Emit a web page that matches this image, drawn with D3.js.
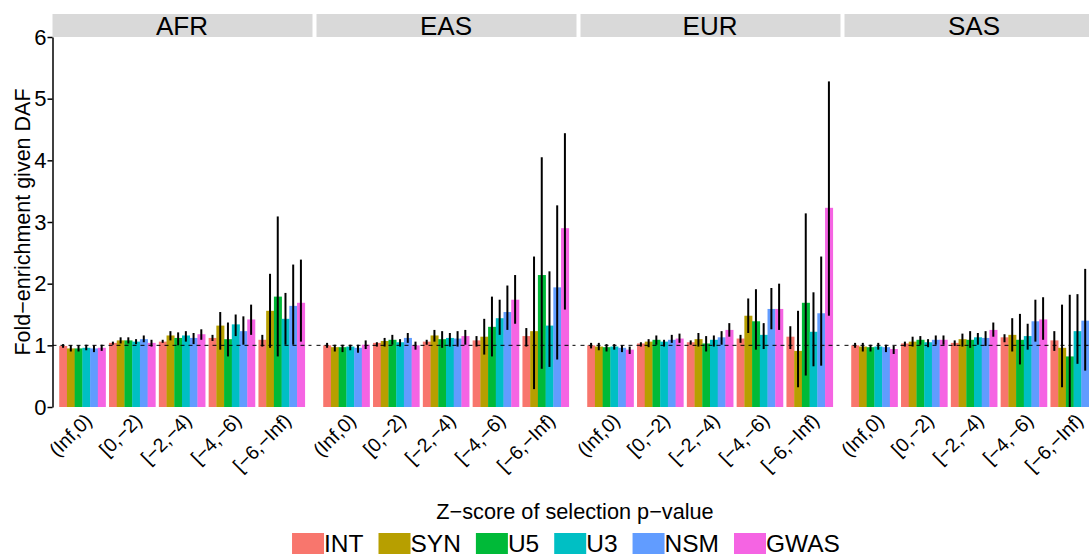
<!DOCTYPE html>
<html>
<head>
<meta charset="utf-8">
<script src="https://cdn.jsdelivr.net/npm/d3@7"></script>
<style>
	html, body { margin: 0; padding: 0; overflow: hidden; background: #fff; }
	svg { display: block; font-family: 'Liberation Sans', Arial, sans-serif; }
</style>
</head>
<body>
<svg id="chart" width="1089" height="554"></svg>
<script>
'use strict';

// Fold-enrichment given DAF, faceted by population.
// Rows = selection p-value bins, columns = annotation classes.

const populations = ['AFR', 'EAS', 'EUR', 'SAS'];
const bins = ['(Inf,0)', '[0,\u22122)', '[\u22122,\u22124)', '[\u22124,\u22126)', '[\u22126,\u2212Inf)'];
const classes = ['INT', 'SYN', 'U5', 'U3', 'NSM', 'GWAS'];
const classColors = ['#F8766D', '#B79F00', '#00BA38', '#00BFC4', '#619CFF', '#F564E3'];
const yTicks = [0, 1, 2, 3, 4, 5, 6];

const afrFold = [
	[0.99, 0.95, 0.95, 0.96, 0.95, 0.96],
	[1.04, 1.08, 1.08, 1.06, 1.10, 1.04],
	[1.06, 1.16, 1.12, 1.16, 1.12, 1.18],
	[1.12, 1.32, 1.10, 1.34, 1.23, 1.42],
	[1.09, 1.56, 1.79, 1.43, 1.64, 1.69]
];
const afrLow = [
	[0.96, 0.90, 0.90, 0.92, 0.89, 0.91],
	[1.01, 1.03, 1.03, 1.02, 1.05, 0.98],
	[1.04, 1.08, 1.00, 1.06, 1.02, 1.09],
	[1.07, 0.93, 0.82, 1.15, 1.01, 1.17],
	[0.98, 0.96, 0.82, 1.01, 1.01, 1.06]
];
const afrHigh = [
	[1.02, 1.00, 1.00, 1.01, 1.00, 1.01],
	[1.06, 1.13, 1.13, 1.10, 1.16, 1.09],
	[1.09, 1.23, 1.21, 1.23, 1.20, 1.26],
	[1.17, 1.54, 1.37, 1.50, 1.47, 1.66],
	[1.17, 2.16, 3.09, 1.85, 2.31, 2.39]
];

const easFold = [
	[1.00, 0.97, 0.97, 0.98, 0.96, 1.01],
	[1.04, 1.07, 1.09, 1.05, 1.12, 1.00],
	[1.06, 1.16, 1.10, 1.12, 1.11, 1.15],
	[1.08, 1.14, 1.30, 1.44, 1.54, 1.74],
	[1.15, 1.23, 2.14, 1.32, 1.94, 2.90]
];
const easLow = [
	[0.96, 0.90, 0.89, 0.92, 0.88, 0.94],
	[0.98, 0.98, 1.01, 0.98, 1.04, 0.93],
	[1.01, 1.06, 0.96, 0.98, 0.98, 1.01],
	[0.98, 0.85, 0.82, 1.17, 1.25, 1.35],
	[0.98, 0.29, 0.62, 0.65, 0.77, 1.58]
];
const easHigh = [
	[1.04, 1.01, 1.01, 1.01, 1.01, 1.08],
	[1.05, 1.12, 1.17, 1.10, 1.20, 1.06],
	[1.09, 1.25, 1.23, 1.20, 1.23, 1.25],
	[1.15, 1.43, 1.79, 1.74, 1.97, 2.14],
	[1.28, 2.44, 4.05, 2.20, 3.27, 4.44]
];

const eurFold = [
	[1.00, 0.98, 0.97, 0.98, 0.96, 0.93],
	[1.03, 1.06, 1.09, 1.06, 1.09, 1.11],
	[1.05, 1.10, 1.03, 1.09, 1.13, 1.25],
	[1.11, 1.48, 1.39, 1.17, 1.59, 1.59],
	[1.14, 0.91, 1.69, 1.22, 1.52, 3.23]
];
const eurLow = [
	[0.95, 0.92, 0.90, 0.93, 0.89, 0.86],
	[0.98, 0.97, 1.01, 0.98, 1.04, 1.04],
	[1.01, 0.98, 0.90, 0.98, 1.01, 1.14],
	[1.04, 1.20, 0.93, 0.94, 1.26, 1.25],
	[0.94, 0.32, 0.51, 0.66, 0.67, 1.48]
];
const eurHigh = [
	[1.04, 1.04, 1.02, 1.02, 1.00, 0.98],
	[1.05, 1.10, 1.16, 1.09, 1.17, 1.19],
	[1.08, 1.20, 1.15, 1.16, 1.23, 1.36],
	[1.17, 1.76, 1.91, 1.36, 1.93, 2.00],
	[1.31, 1.56, 3.14, 1.86, 2.44, 5.28]
];

const sasFold = [
	[1.00, 0.98, 0.97, 0.98, 0.97, 0.94],
	[1.03, 1.06, 1.09, 1.05, 1.09, 1.09],
	[1.04, 1.10, 1.09, 1.13, 1.12, 1.25],
	[1.13, 1.17, 1.09, 1.15, 1.39, 1.42],
	[1.08, 0.96, 0.82, 1.23, 1.40, 1.64]
];
const sasLow = [
	[0.96, 0.90, 0.90, 0.93, 0.89, 0.86],
	[0.98, 0.98, 1.01, 0.97, 1.01, 1.01],
	[0.99, 0.98, 0.96, 1.01, 0.99, 1.14],
	[1.05, 0.90, 0.69, 0.93, 1.06, 1.09],
	[0.91, 0.32, 0.00, 0.70, 0.59, 1.15]
];
const sasHigh = [
	[1.04, 1.04, 1.01, 1.04, 1.01, 0.99],
	[1.06, 1.14, 1.15, 1.10, 1.16, 1.16],
	[1.08, 1.19, 1.23, 1.20, 1.23, 1.37],
	[1.18, 1.44, 1.51, 1.35, 1.74, 1.78],
	[1.23, 1.66, 1.82, 1.83, 2.24, 2.20]
];

const panelData = {
	AFR: { fold: afrFold, low: afrLow, high: afrHigh },
	EAS: { fold: easFold, low: easLow, high: easHigh },
	EUR: { fold: eurFold, low: eurLow, high: eurHigh },
	SAS: { fold: sasFold, low: sasLow, high: sasHigh }
};

// ----------------------- layout ---------------------------------------

const LAYOUT = {
	left: 52.5,
	panelW: 259,
	panelGap: 5,
	top: 37,
	bottom: 407,
	stripH: 23,
	dodge: 0.93
};

const svg = d3.select('#chart');

const y = d3.scaleLinear().domain([0, 6]).range([LAYOUT.bottom, LAYOUT.top]);

function panelLeft(i) { return LAYOUT.left + i * (LAYOUT.panelW + LAYOUT.panelGap); }

function tidy(pop) {
	const d = panelData[pop];
	const rows = [];
	bins.forEach((b, bi) => {
		classes.forEach((c, ci) => {
			rows.push({ bin: b, cls: c, color: classColors[ci],
				fold: d.fold[bi][ci], low: d.low[bi][ci], high: d.high[bi][ci] });
		});
	});
	return rows;
}

// ----------------------- panels ---------------------------------------

populations.forEach((pop, pi) => {
	const x0 = panelLeft(pi);
	const xBin = d3.scalePoint().domain(bins).range([x0, x0 + LAYOUT.panelW]).padding(0.6);
	const groupW = xBin.step() * LAYOUT.dodge;
	const xCls = d3.scaleBand().domain(classes).range([-groupW / 2, groupW / 2]);
	const rows = tidy(pop);
	const g = svg.append('g');

	// strip
	g.append('rect')
		.attr('x', x0).attr('y', LAYOUT.top - LAYOUT.stripH)
		.attr('width', LAYOUT.panelW + 1).attr('height', LAYOUT.stripH)
		.attr('fill', '#D9D9D9');
	g.append('text')
		.attr('x', x0 + LAYOUT.panelW / 2).attr('y', LAYOUT.top - 2)
		.attr('text-anchor', 'middle')
		.attr('font-size', 26)
		.text(pop);

	g.append('g').selectAll('rect').data(rows).join('rect')
		.attr('x', (d) => xBin(d.bin) + xCls(d.cls))
		.attr('y', (d) => y(d.fold))
		.attr('width', xCls.bandwidth() + 0.3)
		.attr('height', (d) => y(0) - y(d.fold))
		.attr('fill', (d) => d.color);

	g.append('line')
		.attr('x1', x0).attr('x2', x0 + LAYOUT.panelW)
		.attr('y1', y(1)).attr('y2', y(1))
		.attr('stroke', '#000').attr('stroke-width', 1)
		.attr('stroke-dasharray', '4,4');

	g.append('g').selectAll('line').data(rows).join('line')
		.attr('x1', (d) => xBin(d.bin) + xCls(d.cls) + xCls.bandwidth() / 2)
		.attr('x2', (d) => xBin(d.bin) + xCls(d.cls) + xCls.bandwidth() / 2)
		.attr('y1', (d) => y(d.low))
		.attr('y2', (d) => y(d.high))
		.attr('stroke', '#000').attr('stroke-width', 2);

	// rotated bin labels
	g.append('g').selectAll('text').data(bins).join('text')
		.attr('transform', (b) => `translate(${xBin(b) + 1},${LAYOUT.bottom + 5}) rotate(-45)`)
		.attr('text-anchor', 'end')
		.attr('dy', '0.71em')
		.attr('font-size', 19.5)
		.text((b) => b);
});

// ----------------------- y axis ---------------------------------------

const yAxis = svg.append('g')
	.attr('transform', `translate(${LAYOUT.left},0)`)
	.call(d3.axisLeft(y).tickValues(yTicks).tickFormat(d3.format('d'))
		.tickSize(5).tickSizeOuter(0).tickPadding(1));
yAxis.select('.domain').attr('stroke', '#000').attr('stroke-width', 1.5);
yAxis.selectAll('.tick line').attr('stroke', '#000').attr('stroke-width', 1.5);
yAxis.selectAll('.tick text')
	.attr('font-size', 22).attr('fill', '#000')
	.attr('font-family', "'Liberation Sans', Arial, sans-serif");

svg.append('text')
	.attr('transform', `translate(30,${(LAYOUT.top + LAYOUT.bottom) / 2}) rotate(-90)`)
	.attr('text-anchor', 'middle')
	.attr('font-size', 21.5)
	.text('Fold\u2212enrichment given DAF');

svg.append('text')
	.attr('x', 575).attr('y', 519)
	.attr('text-anchor', 'middle')
	.attr('font-size', 21.7)
	.text('Z\u2212score of selection p\u2212value');

// ----------------------- legend ---------------------------------------

const KEY = { w: 32, h: 32, gap: 15, top: 533, baseline: 552, centre: 566 };
const legend = svg.append('g');
const items = classes.map((c, i) => {
	const item = legend.append('g');
	item.append('rect').attr('width', KEY.w).attr('height', KEY.h).attr('y', KEY.top)
		.attr('fill', classColors[i]);
	const t = item.append('text').attr('x', KEY.w).attr('y', KEY.baseline)
		.attr('font-size', 24.5).text(c);
	return { item, w: KEY.w + t.node().getComputedTextLength() };
});
const total = d3.sum(items, (d) => d.w) + KEY.gap * (items.length - 1);
let cursor = KEY.centre - total / 2;
items.forEach((d) => {
	d.item.attr('transform', `translate(${cursor},0)`);
	cursor += d.w + KEY.gap;
});
</script>
</body>
</html>
